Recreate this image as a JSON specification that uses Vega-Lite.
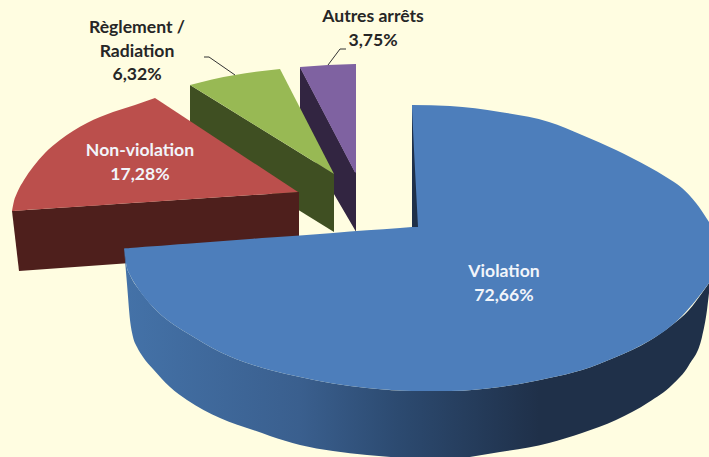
{"$schema":"https://vega.github.io/schema/vega-lite/v6.json","width":709,"height":457,"padding":0,"autosize":{"type":"none"},"background":"#FFFDE1","view":{"stroke":null},
"datasets":{"shapes":[
{"part":"purpleSide","x":300,"y":67,"y2":136},{"part":"purpleSide","x":355,"y":172,"y2":230},{"part":"purpleSide","x":356,"y":172,"y2":232},
{"part":"purpleTop","x":300,"y":67,"y2":67.5},{"part":"purpleTop","x":328,"y":65,"y2":121},{"part":"purpleTop","x":355,"y":64,"y2":172.5},{"part":"purpleTop","x":356,"y":64,"y2":172.5},
{"part":"greenSide","x":190,"y":85,"y2":143},{"part":"greenSide","x":334,"y":174,"y2":232},
{"part":"greenArc","x":190,"y":85,"y2":85},{"part":"greenArc","x":212,"y":79.5,"y2":98.6},{"part":"greenArc","x":235,"y":75,"y2":112.8},{"part":"greenArc","x":258,"y":71.5,"y2":127},{"part":"greenArc","x":280,"y":69,"y2":140.6},
{"part":"greenEdge","x":280,"y":69,"y2":140.6},{"part":"greenEdge","x":334,"y":174,"y2":174},
{"part":"redSide","x":12,"y":211,"y2":211},{"part":"redSide","x":19,"y":210.5,"y2":271},{"part":"redSide","x":299,"y":192,"y2":251},
{"part":"redArc","x":12,"y":211,"y2":211},{"part":"redArc","x":14,"y":201,"y2":210.9},{"part":"redArc","x":17,"y":193,"y2":210.7},{"part":"redArc","x":24,"y":180,"y2":210.2},{"part":"redArc","x":33,"y":167,"y2":209.6},{"part":"redArc","x":45,"y":153,"y2":208.8},{"part":"redArc","x":60,"y":140,"y2":207.8},{"part":"redArc","x":73,"y":131,"y2":207},{"part":"redArc","x":87,"y":123,"y2":206},{"part":"redArc","x":100,"y":117,"y2":205.2},{"part":"redArc","x":113,"y":112,"y2":204.3},{"part":"redArc","x":135,"y":105,"y2":202.8},{"part":"redArc","x":155,"y":98,"y2":201.5},
{"part":"redEdge","x":155,"y":98,"y2":201.5},{"part":"redEdge","x":298,"y":192,"y2":192},
{"part":"blueSide","x":124,"y":248,"y2":248},{"part":"blueSide","x":127,"y":268,"y2":284},{"part":"blueSide","x":130,"y":275,"y2":320},{"part":"blueSide","x":133,"y":281,"y2":337},{"part":"blueSide","x":137,"y":287,"y2":347},{"part":"blueSide","x":143,"y":295,"y2":357},{"part":"blueSide","x":153,"y":307,"y2":369},{"part":"blueSide","x":170,"y":322,"y2":387},{"part":"blueSide","x":187,"y":333,"y2":400},{"part":"blueSide","x":220,"y":352,"y2":418},{"part":"blueSide","x":253,"y":365,"y2":430},{"part":"blueSide","x":270,"y":370,"y2":436},{"part":"blueSide","x":300,"y":377,"y2":445},{"part":"blueSide","x":333,"y":383.5,"y2":451},{"part":"blueSide","x":367,"y":388,"y2":455},{"part":"blueSide","x":400,"y":390.5,"y2":457.5},{"part":"blueSide","x":450,"y":391,"y2":458.5},{"part":"blueSide","x":500,"y":387,"y2":452},{"part":"blueSide","x":549,"y":378,"y2":443},{"part":"blueSide","x":582,"y":370,"y2":433},{"part":"blueSide","x":616,"y":357,"y2":420},{"part":"blueSide","x":649,"y":341,"y2":402},{"part":"blueSide","x":672,"y":325,"y2":385},{"part":"blueSide","x":689,"y":310,"y2":365},{"part":"blueSide","x":702,"y":293,"y2":337},{"part":"blueSide","x":707,"y":286,"y2":310},{"part":"blueSide","x":709,"y":283,"y2":293},
{"part":"blueLeft","x":124,"y":248.5,"y2":248.5},{"part":"blueLeft","x":127,"y":248.3,"y2":268},{"part":"blueLeft","x":130,"y":248,"y2":275},{"part":"blueLeft","x":137,"y":247.5,"y2":287},{"part":"blueLeft","x":153,"y":246.3,"y2":307},{"part":"blueLeft","x":170,"y":245,"y2":322},{"part":"blueLeft","x":187,"y":243.8,"y2":333},{"part":"blueLeft","x":220,"y":241.3,"y2":352},{"part":"blueLeft","x":253,"y":238.8,"y2":365},{"part":"blueLeft","x":270,"y":237.5,"y2":370},{"part":"blueLeft","x":300,"y":235.4,"y2":377},{"part":"blueLeft","x":333,"y":232.9,"y2":383.5},{"part":"blueLeft","x":367,"y":230.3,"y2":388},{"part":"blueLeft","x":400,"y":227.9,"y2":390.5},{"part":"blueLeft","x":412,"y":227,"y2":391},
{"part":"blueRight","x":412,"y":105,"y2":391},{"part":"blueRight","x":450,"y":106,"y2":391},{"part":"blueRight","x":500,"y":112,"y2":387},{"part":"blueRight","x":549,"y":122,"y2":378},{"part":"blueRight","x":582,"y":135,"y2":370},{"part":"blueRight","x":616,"y":150,"y2":357},{"part":"blueRight","x":649,"y":167,"y2":341},{"part":"blueRight","x":666,"y":177,"y2":330},{"part":"blueRight","x":682,"y":188,"y2":316},{"part":"blueRight","x":696,"y":203,"y2":300},{"part":"blueRight","x":709,"y":222,"y2":283},
{"part":"blueNotch","x":412,"y":108,"y2":227},{"part":"blueNotch","x":414,"y":150,"y2":227},{"part":"blueNotch","x":418,"y":227,"y2":227}
],
"leaders":[
{"slice":"Règlement","x":204,"y":57},{"slice":"Règlement","x":209,"y":57},{"slice":"Règlement","x":235,"y":75},
{"slice":"Autres","x":328,"y":65},{"slice":"Autres","x":340,"y":49},{"slice":"Autres","x":346,"y":49}
],
"labels":[
{"label":"Violation\n72,66%","x":504,"y":272,"tone":"light"},
{"label":"Non-violation\n17,28%","x":140,"y":151,"tone":"light"},
{"label":"Règlement /\nRadiation\n6,32%","x":137,"y":28,"tone":"dark"},
{"label":"Autres arrêts\n3,75%","x":373,"y":17,"tone":"dark"}
]},
"encoding":{"x":{"field":"x","type":"quantitative","axis":null,"scale":{"domain":[0,709],"nice":false,"zero":false}},"y":{"field":"y","type":"quantitative","axis":null,"scale":{"domain":[457,0],"nice":false,"zero":false}}},
"layer":[
{"data":{"name":"shapes"},"transform":[{"filter":"datum.part==='purpleSide'"}],"mark":{"type":"area","color":"#322541"},"encoding":{"y2":{"field":"y2"}}},
{"data":{"name":"shapes"},"transform":[{"filter":"datum.part==='purpleTop'"}],"mark":{"type":"area","color":"#7F62A1"},"encoding":{"y2":{"field":"y2"}}},
{"data":{"name":"shapes"},"transform":[{"filter":"datum.part==='greenSide'"}],"mark":{"type":"area","color":"#3F4F22"},"encoding":{"y2":{"field":"y2"}}},
{"data":{"name":"shapes"},"transform":[{"filter":"datum.part==='greenArc'"}],"mark":{"type":"area","color":"#98B954","interpolate":"monotone"},"encoding":{"y2":{"field":"y2"}}},
{"data":{"name":"shapes"},"transform":[{"filter":"datum.part==='greenEdge'"}],"mark":{"type":"area","color":"#98B954"},"encoding":{"y2":{"field":"y2"}}},
{"data":{"name":"shapes"},"transform":[{"filter":"datum.part==='redSide'"}],"mark":{"type":"area","color":"#4E1F1C"},"encoding":{"y2":{"field":"y2"}}},
{"data":{"name":"shapes"},"transform":[{"filter":"datum.part==='redArc'"}],"mark":{"type":"area","color":"#BB4F4C","interpolate":"monotone"},"encoding":{"y2":{"field":"y2"}}},
{"data":{"name":"shapes"},"transform":[{"filter":"datum.part==='redEdge'"}],"mark":{"type":"area","color":"#BB4F4C"},"encoding":{"y2":{"field":"y2"}}},
{"data":{"name":"shapes"},"transform":[{"filter":"datum.part==='blueSide'"}],"mark":{"type":"area","interpolate":"monotone","color":{"gradient":"linear","x1":0,"y1":0,"x2":1,"y2":0,"stops":[{"offset":0,"color":"#4472A8"},{"offset":0.3,"color":"#3A5F8E"},{"offset":0.47,"color":"#2C4A70"},{"offset":0.71,"color":"#1F3049"},{"offset":1,"color":"#1F3049"}]}},"encoding":{"y2":{"field":"y2"}}},
{"data":{"name":"shapes"},"transform":[{"filter":"datum.part==='blueLeft'"}],"mark":{"type":"area","color":"#4D7EBB","interpolate":"monotone"},"encoding":{"y2":{"field":"y2"}}},
{"data":{"name":"shapes"},"transform":[{"filter":"datum.part==='blueRight'"}],"mark":{"type":"area","color":"#4D7EBB","interpolate":"monotone"},"encoding":{"y2":{"field":"y2"}}},
{"data":{"name":"shapes"},"transform":[{"filter":"datum.part==='blueNotch'"}],"mark":{"type":"area","color":"#1F3049"},"encoding":{"y2":{"field":"y2"}}},
{"data":{"name":"leaders"},"mark":{"type":"line","color":"#333333","strokeWidth":1},"encoding":{"detail":{"field":"slice"}}},
{"data":{"name":"labels"},"mark":{"type":"text","font":"Lato","fontWeight":"bold","fontSize":17.6,"lineBreak":"\n","lineHeight":23.5,"align":"center","baseline":"middle"},"encoding":{"text":{"field":"label"},"color":{"field":"tone","type":"nominal","legend":null,"scale":{"domain":["light","dark"],"range":["#F2F5FA","#262626"]}}}}
]}
